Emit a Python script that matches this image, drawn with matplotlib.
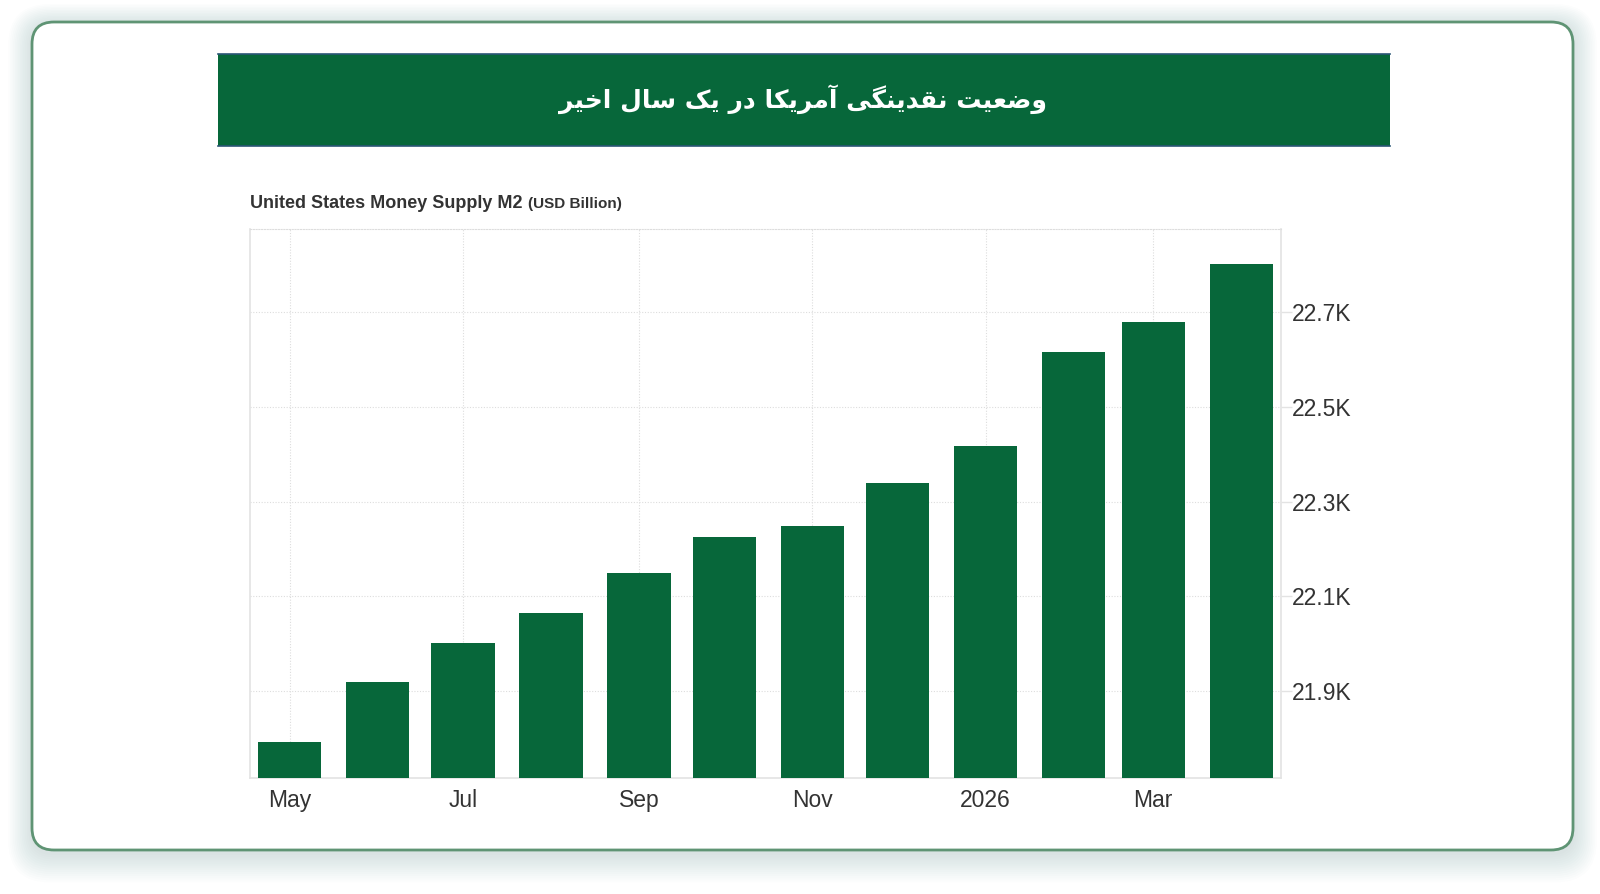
import matplotlib
matplotlib.use("Agg")
import matplotlib.pyplot as plt
from matplotlib.patches import FancyBboxPatch, Rectangle
import datetime as dt

# ---------------- data ----------------
months = ["2025-05-01", "2025-06-01", "2025-07-01", "2025-08-01", "2025-09-01", "2025-10-01",
          "2025-11-01", "2025-12-01", "2026-01-01", "2026-02-01", "2026-03-01", "2026-04-01"]
m2_values = [21792, 21919, 22001, 22064, 22150, 22226, 22249, 22340, 22418, 22616, 22679, 22801]
tick_dates = ["2025-05-01", "2025-07-01", "2025-09-01", "2025-11-01", "2026-01-01", "2026-03-01"]
tick_labels = ["May", "Jul", "Sep", "Nov", "2026", "Mar"]
y_ticks = [21900, 22100, 22300, 22500, 22700]
y_tick_labels = ["21.9K", "22.1K", "22.3K", "22.5K", "22.7K"]
title_fa = "وضعیت نقدینگی آمریکا در یک سال اخیر"
subtitle = "United States Money Supply M2"
subtitle_unit = "(USD Billion)"

GREEN = "#07673A"

# --------- simple Persian shaping (presentation forms, visual order) ---------
FORMS = {
    "آ": ("\uFE81", "\uFE82"), "ا": ("\uFE8D", "\uFE8E"),
    "ت": ("\uFE95", "\uFE96", "\uFE97", "\uFE98"), "خ": ("\uFEA5", "\uFEA6", "\uFEA7", "\uFEA8"),
    "د": ("\uFEA9", "\uFEAA"), "ر": ("\uFEAD", "\uFEAE"),
    "س": ("\uFEB1", "\uFEB2", "\uFEB3", "\uFEB4"), "ض": ("\uFEBD", "\uFEBE", "\uFEBF", "\uFEC0"),
    "ع": ("\uFEC9", "\uFECA", "\uFECB", "\uFECC"), "ق": ("\uFED5", "\uFED6", "\uFED7", "\uFED8"),
    "ل": ("\uFEDD", "\uFEDE", "\uFEDF", "\uFEE0"), "م": ("\uFEE1", "\uFEE2", "\uFEE3", "\uFEE4"),
    "ن": ("\uFEE5", "\uFEE6", "\uFEE7", "\uFEE8"), "و": ("\uFEED", "\uFEEE"),
    "ی": ("\uFBFC", "\uFBFD", "\uFBFE", "\uFBFF"), "ک": ("\uFB8E", "\uFB8F", "\uFB90", "\uFB91"),
    "گ": ("\uFB92", "\uFB93", "\uFB94", "\uFB95"),
}
RIGHT_JOIN = set("اآدذرزژو")


def shape(text):
    out = []
    for i, c in enumerate(text):
        if c not in FORMS:
            out.append(c)
            continue
        prev = text[i - 1] if i > 0 else None
        nxt = text[i + 1] if i + 1 < len(text) else None
        jp = prev in FORMS and prev not in RIGHT_JOIN
        jn = nxt in FORMS and c not in RIGHT_JOIN
        f = FORMS[c]
        if len(f) == 2:
            out.append(f[1] if jp else f[0])
        else:
            out.append(f[3] if (jp and jn) else f[1] if jp else f[2] if jn else f[0])
    return "".join(reversed(out))


W, H = 1600, 894
fig = plt.figure(figsize=(W / 100, H / 100), dpi=100)
fig.patch.set_facecolor("white")

# background / decoration axes in pixel coordinates
bg = fig.add_axes([0, 0, 1, 1], zorder=0)
bg.set_xlim(0, W)
bg.set_ylim(H, 0)
bg.axis("off")

cx0, cy0, cx1, cy1 = 32, 22, 1573, 850
# soft shadow
for k in range(14, 0, -1):
    bg.add_patch(FancyBboxPatch((cx0 - k * 0.3, cy0 + 3 - k * 0.1), cx1 - cx0 + k * 0.6, cy1 - cy0 + k * 0.8,
                                boxstyle=f"round,pad={k*1.4},rounding_size={22 + k*1.4}",
                                facecolor="#3a7557", edgecolor="none", alpha=0.013))
bg.add_patch(FancyBboxPatch((cx0, cy0), cx1 - cx0, cy1 - cy0,
                            boxstyle="round,pad=0,rounding_size=22",
                            facecolor="white", edgecolor="#5f9474", linewidth=2))

# banner
bx0, by0, bx1, by1 = 218, 54, 1390, 146
bg.add_patch(Rectangle((bx0, by0), bx1 - bx0, by1 - by0, facecolor=GREEN, edgecolor="none"))
bg.plot([bx0, bx1], [by0, by0], color="#2b5676", lw=1.2)
bg.plot([bx0, bx1], [by1, by1], color="#2b5676", lw=1.2)
bg.text(803, 99, shape(title_fa), color="white", fontsize=18, fontweight="bold",
        family=["DejaVu Sans"], ha="center", va="center")

# subtitle
t1 = bg.text(250, 203, subtitle, color="#333333", fontsize=13, fontweight="bold",
             family=["Liberation Sans", "DejaVu Sans"], ha="left", va="center")
bg.annotate(subtitle_unit, xy=(1, 0), xycoords=t1, xytext=(4, 0.5), textcoords="offset points",
            color="#333333", fontsize=11, fontweight="bold", family=["Liberation Sans", "DejaVu Sans"],
            ha="left", va="bottom")

# ---------------- chart ----------------
px0, px1, py_top, py_bot = 250, 1281, 229, 778
ax = fig.add_axes([px0 / W, 1 - py_bot / H, (px1 - px0) / W, (py_bot - py_top) / H], zorder=2)
ax.patch.set_alpha(0)

x = [dt.datetime.strptime(m, "%Y-%m-%d") for m in months]
xt = [dt.datetime.strptime(m, "%Y-%m-%d") for m in tick_dates]
ax.bar(x, m2_values, width=22.3, color=GREEN, edgecolor="none", zorder=3)

ax.set_xlim(dt.datetime(2025, 4, 17), dt.datetime(2026, 4, 15))
ax.set_ylim(21716, 22876)

ax.set_xticks(xt)
ax.set_xticklabels(tick_labels)
ax.set_yticks(y_ticks)
ax.set_yticklabels(y_tick_labels)
ax.yaxis.tick_right()

for lab in ax.get_xticklabels() + ax.get_yticklabels():
    lab.set_fontfamily(["Liberation Sans", "DejaVu Sans"])
    lab.set_fontsize(16.5)
    lab.set_color("#333333")

ax.tick_params(axis="x", length=0, pad=8)
ax.tick_params(axis="y", length=8, width=1, color="#e3e3e3", pad=0)

ax.grid(True, which="major", color="#dddddd", linestyle=(0, (1, 1.5)), linewidth=0.8, zorder=0)
ax.set_axisbelow(True)

for side in ["left", "right", "bottom"]:
    ax.spines[side].set_color("#e3e3e3")
    ax.spines[side].set_linewidth(1.2)
ax.spines["top"].set_color("#dddddd")
ax.spines["top"].set_linestyle((0, (1, 1.5)))
ax.spines["top"].set_linewidth(0.8)

fig.savefig("out.png", dpi=100, facecolor="white")
